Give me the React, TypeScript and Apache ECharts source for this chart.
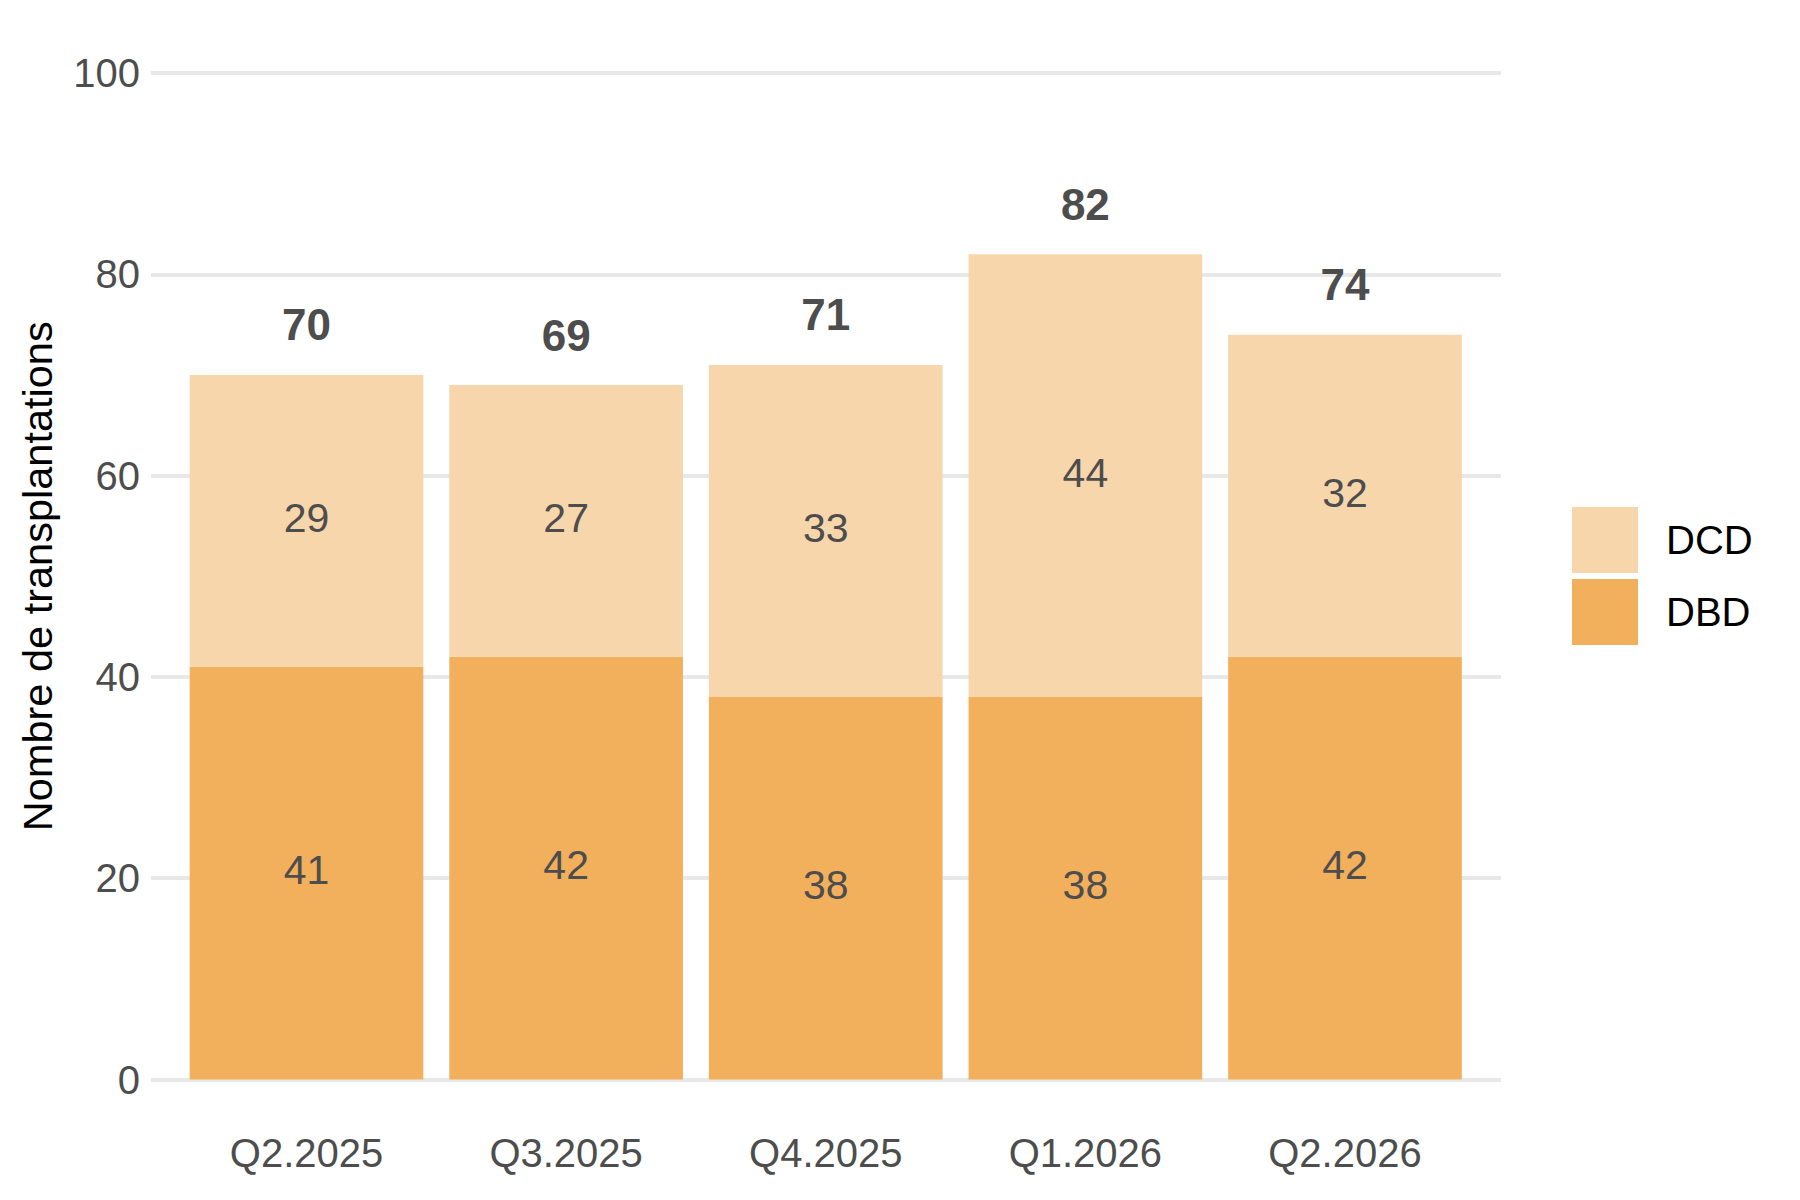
import { useEffect, useRef } from 'react';
import * as echarts from 'echarts';

// Chart data
const quarters = ['Q2.2025', 'Q3.2025', 'Q4.2025', 'Q1.2026', 'Q2.2026'];
const dbdValues = [41, 42, 38, 38, 42];
const dcdValues = [29, 27, 33, 44, 32];
const totalValues = [70, 69, 71, 82, 74];
const yTicks = [0, 20, 40, 60, 80, 100];

const FONT = "'Liberation Sans', Arial, sans-serif";
const DBD_COLOR = '#F2AF5C';
const DCD_COLOR = '#F7D6AB';
const TEXT_GREY = '#4D4D4D';

const App = () => {
    const chartRef = useRef<HTMLDivElement>(null);

    useEffect(() => {
        document.body.style.margin = '0';
        if (!chartRef.current) return;
        const chart = echarts.init(chartRef.current, null, { renderer: 'svg' });

        // label style shared by the two stacked segments
        const segmentLabel = {
            show: true,
            position: 'inside',
            offset: [0, -3],
            fontSize: 41,
            color: TEXT_GREY,
            fontFamily: FONT,
        };

        chart.setOption({
            animation: false,
            backgroundColor: '#ffffff',
            textStyle: { fontFamily: FONT },
            // grid 0 carries the gridlines (wider, like ggplot's expanded panel),
            // grid 1 carries the bars
            grid: [
                { left: 151, right: 299, top: 73, bottom: 120.5 },
                { left: 176.7, right: 325.2, top: 73, bottom: 120.5 },
            ],
            legend: {
                data: ['DCD', 'DBD'],
                orient: 'vertical',
                left: 1572,
                top: 507,
                padding: 0,
                itemWidth: 66,
                itemHeight: 66,
                itemGap: 6,
                icon: 'rect',
                textStyle: {
                    fontSize: 40,
                    color: '#000000',
                    fontFamily: FONT,
                    padding: [0, 0, 0, 23],
                },
            },
            xAxis: [
                { type: 'category', gridIndex: 0, show: false, data: quarters },
                {
                    type: 'category',
                    gridIndex: 1,
                    data: quarters,
                    axisLine: { show: false },
                    axisTick: { show: false },
                    axisLabel: {
                        fontSize: 40,
                        color: TEXT_GREY,
                        fontFamily: FONT,
                        margin: 53,
                    },
                },
            ],
            yAxis: [
                {
                    type: 'value',
                    gridIndex: 0,
                    min: yTicks[0],
                    max: yTicks[yTicks.length - 1],
                    interval: 20,
                    name: 'Nombre de transplantations',
                    nameLocation: 'middle',
                    nameGap: 93,
                    nameTextStyle: { fontSize: 41.5, color: '#000000', fontFamily: FONT },
                    axisLine: { show: false },
                    axisTick: { show: false },
                    axisLabel: {
                        fontSize: 40,
                        color: TEXT_GREY,
                        fontFamily: FONT,
                        margin: 11,
                    },
                    splitLine: { lineStyle: { color: '#E8E8E8', width: 4 } },
                },
                {
                    type: 'value',
                    gridIndex: 1,
                    min: yTicks[0],
                    max: yTicks[yTicks.length - 1],
                    show: false,
                    splitLine: { show: false },
                },
            ],
            series: [
                {
                    name: 'DBD',
                    type: 'bar',
                    stack: 'total',
                    xAxisIndex: 1,
                    yAxisIndex: 1,
                    barWidth: '90%',
                    data: dbdValues,
                    itemStyle: { color: DBD_COLOR },
                    label: segmentLabel,
                },
                {
                    name: 'DCD',
                    type: 'bar',
                    stack: 'total',
                    xAxisIndex: 1,
                    yAxisIndex: 1,
                    barWidth: '90%',
                    data: dcdValues,
                    itemStyle: { color: DCD_COLOR },
                    label: segmentLabel,
                },
                {
                    // invisible points carrying the bold totals above each bar
                    name: 'Total',
                    type: 'scatter',
                    xAxisIndex: 1,
                    yAxisIndex: 1,
                    data: totalValues,
                    symbolSize: 0,
                    silent: true,
                    itemStyle: { opacity: 1, color: TEXT_GREY },
                    label: {
                        show: true,
                        position: 'top',
                        distance: 28,
                        fontSize: 44,
                        fontWeight: 'bold',
                        color: TEXT_GREY,
                        opacity: 1,
                        fontFamily: FONT,
                    },
                },
            ],
        });

        return () => chart.dispose();
    }, []);

    return <div ref={chartRef} style={{ width: 1800, height: 1200 }} />;
};

export default App;
